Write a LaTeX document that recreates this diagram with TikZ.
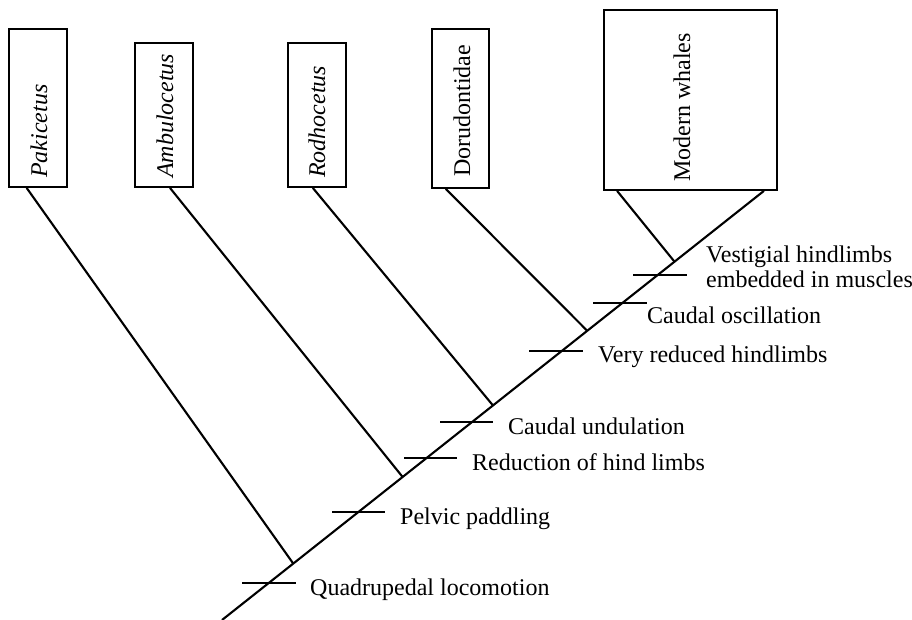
\documentclass[tikz,border=0pt]{standalone}
\usepackage{fontspec}
\setmainfont{Liberation Serif}
\usetikzlibrary{calc}
\begin{document}
\begin{tikzpicture}[x=1pt,y=-1pt,
  taxonbox/.style={draw, line width=1.8pt, rectangle, inner sep=0pt},
  taxontext/.style={rotate=90, anchor=base west, inner sep=0pt, font=\fontsize{24}{25}\selectfont},
  charlabel/.style={anchor=base west, inner sep=0pt, font=\fontsize{24}{25}\selectfont},
  branch/.style={line width=2.1pt},
  tick/.style={line width=2.1pt}]
\useasboundingbox (0,0) rectangle (912,620);

% taxon boxes
\node[taxonbox, minimum width=58pt, minimum height=158pt] (pak) at (38,108) {};
\node[taxonbox, minimum width=58pt, minimum height=144pt] (amb) at (164,115) {};
\node[taxonbox, minimum width=58pt, minimum height=144pt] (rod) at (317,115) {};
\node[taxonbox, minimum width=57pt, minimum height=159pt] (dor) at (460.5,108.5) {};
\node[taxonbox, minimum width=173pt, minimum height=180pt] (mod) at (690.5,100) {};

\node[taxontext] (pakt) at (47,178) {\itshape Pakicetus};
\node[taxontext] (ambt) at (173,178) {\itshape Ambulocetus};
\node[taxontext] (rodt) at (325,178) {\itshape Rodhocetus};
\node[taxontext] (dort) at (470,177) {Dorudontidae};
\node[taxontext] (modt) at (690,182) {Modern whales};

% trunk
\coordinate (root) at (222,620);
\coordinate (top) at ($(mod.south west)!0.92!(mod.south east)$);
\coordinate (j1) at ($(root)!0.1315!(top)$);
\coordinate (j2) at ($(root)!0.3333!(top)$);
\coordinate (j3) at ($(root)!0.5!(top)$);
\coordinate (j4) at ($(root)!0.674!(top)$);
\coordinate (j5) at ($(root)!0.835!(top)$);

\draw[branch] (root) -- (top);
\draw[branch] ($(pak.south west)!0.31!(pak.south east)$) -- (j1);
\draw[branch] ($(amb.south west)!0.60!(amb.south east)$) -- (j2);
\draw[branch] ($(rod.south west)!0.43!(rod.south east)$) -- (j3);
\draw[branch] ($(dor.south west)!0.25!(dor.south east)$) -- (j4);
\draw[branch] ($(mod.south west)!0.08!(mod.south east)$) -- (j5);

% character ticks
\draw[tick] (242,583) -- (296,583);
\draw[tick] (332,512) -- (385,512);
\draw[tick] (404,458) -- (457,458);
\draw[tick] (440,422) -- (493,422);
\draw[tick] (529,351) -- (583,351);
\draw[tick] (593,303) -- (647,303);
\draw[tick] (633,275) -- (687,275);

% character labels
\node[charlabel] (c1) at (310,595) {Quadrupedal locomotion};
\node[charlabel] (c2) at (400,524) {Pelvic paddling};
\node[charlabel] (c3) at (472,470) {Reduction of hind limbs};
\node[charlabel] (c4) at (508,434) {Caudal undulation};
\node[charlabel] (c5) at (598,362) {Very reduced hindlimbs};
\node[charlabel] (c6) at (647,323) {Caudal oscillation};
\node[anchor=north west, inner sep=0pt, align=left, font=\fontsize{24}{25}\selectfont] (c7) at (706,245.5) {Vestigial hindlimbs\\embedded in muscles};
\end{tikzpicture}
\end{document}
